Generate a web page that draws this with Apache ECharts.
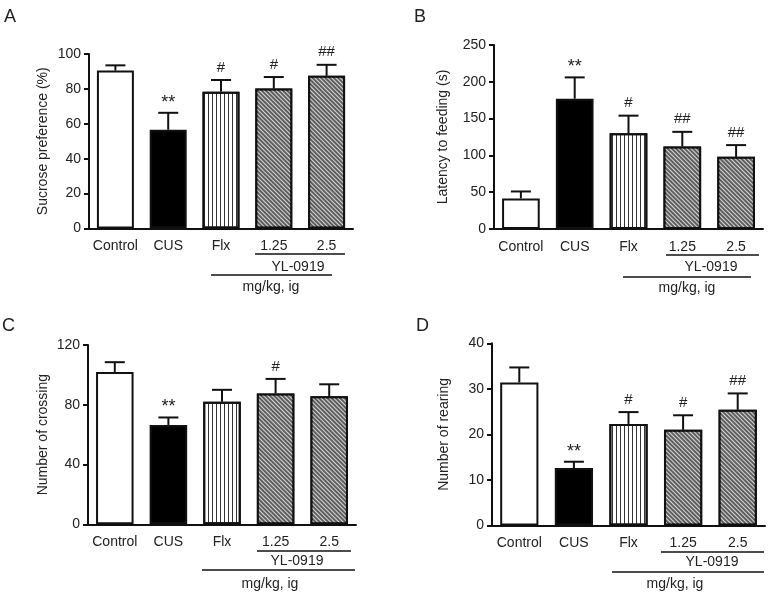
<!DOCTYPE html>
<html>
<head>
<meta charset="utf-8">
<script src="https://cdn.jsdelivr.net/npm/echarts@6/dist/echarts.min.js"></script>
<style>
html,body{margin:0;padding:0;background:#fff;}
#chart{width:769px;height:595px;}
</style>
</head>
<body>
<div id="chart"></div>
<script>
// ---- data ----
const categories = ['Control', 'CUS', 'Flx', '1.25', '2.5'];

const sucroseMean = [90.5, 56.6, 78.4, 80.2, 87.5];
const sucroseErr  = [3.0, 9.7, 6.7, 6.6, 6.3];
const sucroseSig  = ['', '**', '#', '#', '##'];

const latencyMean = [41.5, 177, 130, 112, 98];
const latencyErr  = [9.5, 29, 24, 20, 16];
const latencySig  = ['', '**', '#', '##', '##'];

const crossingMean = [102, 66.5, 82, 87.5, 85.7];
const crossingErr  = [6.5, 5.0, 8.0, 9.8, 8.0];
const crossingSig  = ['', '**', '', '#', ''];

const rearingMean = [31.4, 12.6, 22.3, 21.0, 25.4];
const rearingErr  = [3.3, 1.4, 2.6, 3.2, 3.6];
const rearingSig  = ['', '**', '#', '#', '##'];

const yMaxA = 100, yStepA = 20, yNameA = 'Sucrose preference (%)';
const yMaxB = 250, yStepB = 50, yNameB = 'Latency to feeding (s)';
const yMaxC = 120, yStepC = 40, yNameC = 'Number of crossing';
const yMaxD = 40,  yStepD = 10, yNameD = 'Number of rearing';

const groupLabel = 'YL-0919';
const unitLabel = 'mg/kg, ig';
const panelLetters = ['A', 'B', 'C', 'D'];

// ---- styles ----
const FONT = '"Liberation Sans", Arial, sans-serif';
const INK = '#111';
const TXT = '#222';

const hatch = { symbol: 'rect', symbolSize: 1, color: '#d8d8d8', dashArrayX: [4, 0], dashArrayY: [1, 1.6], rotation: Math.PI / 4 };
const barStyles = [
  { color: '#ffffff', borderColor: INK, borderWidth: 2 },
  { color: '#000000', borderColor: INK, borderWidth: 2 },
  { color: '#ffffff', borderColor: INK, borderWidth: 2,
    decal: { symbol: 'rect', symbolSize: 1, color: '#333', dashArrayX: [1, 2.8], dashArrayY: [4, 0], rotation: 0 } },
  { color: '#5e5e5e', borderColor: INK, borderWidth: 2, decal: hatch },
  { color: '#5e5e5e', borderColor: INK, borderWidth: 2, decal: hatch }
];

const grids = [
  { left: 89,  top: 54,    width: 264, height: 174.5 },
  { left: 494, top: 45,    width: 269, height: 184 },
  { left: 88,  top: 345,   width: 268, height: 179.3 },
  { left: 492, top: 343.3, width: 273, height: 182.2 }
];

const panels = [
  { mean: sucroseMean,  err: sucroseErr,  sig: sucroseSig,  max: yMaxA, step: yStepA, name: yNameA, nameGap: 39 },
  { mean: latencyMean,  err: latencyErr,  sig: latencySig,  max: yMaxB, step: yStepB, name: yNameB, nameGap: 44 },
  { mean: crossingMean, err: crossingErr, sig: crossingSig, max: yMaxC, step: yStepC, name: yNameC, nameGap: 38 },
  { mean: rearingMean,  err: rearingErr,  sig: rearingSig,  max: yMaxD, step: yStepD, name: yNameD, nameGap: 41 }
];

const xAxes = [], yAxes = [], series = [];
panels.forEach((p, k) => {
  xAxes.push({
    type: 'category', gridIndex: k, data: categories,
    axisLine: { lineStyle: { color: INK, width: 2 } },
    axisTick: { alignWithLabel: true, length: 5, lineStyle: { color: INK, width: 2 } },
    axisLabel: { interval: 0, fontSize: 14, color: TXT, fontFamily: FONT, margin: 11 }
  });
  yAxes.push({
    type: 'value', gridIndex: k, min: 0, max: p.max, interval: p.step,
    name: p.name, nameLocation: 'middle', nameGap: p.nameGap,
    nameTextStyle: { fontSize: 14, color: TXT, fontFamily: FONT },
    axisLine: { show: true, lineStyle: { color: INK, width: 2 } },
    axisTick: { show: true, length: 5, lineStyle: { color: INK, width: 2 } },
    axisLabel: { fontSize: 14, color: TXT, fontFamily: FONT, margin: 8 },
    splitLine: { show: false }
  });
  series.push({
    type: 'bar', xAxisIndex: k, yAxisIndex: k, barWidth: '70%',
    silent: true, animation: false,
    data: p.mean.map((v, i) => ({ value: v, itemStyle: barStyles[i] }))
  });
  series.push({
    type: 'custom', xAxisIndex: k, yAxisIndex: k, animation: false, silent: true, z: 5,
    data: p.mean.map((v, i) => [i, v, p.err[i]]),
    renderItem: function (params, api) {
      const i = api.value(0), m = api.value(1), e = api.value(2);
      const base = api.coord([i, m]);
      const top = api.coord([i, m + e]);
      const half = 10;
      const children = [
        { type: 'line', shape: { x1: top[0], y1: base[1], x2: top[0], y2: top[1] }, style: { stroke: INK, lineWidth: 2 } },
        { type: 'line', shape: { x1: top[0] - half, y1: top[1], x2: top[0] + half, y2: top[1] }, style: { stroke: INK, lineWidth: 2 } }
      ];
      const s = p.sig[params.dataIndex];
      if (s) {
        const star = s === '**';
        children.push({
          type: 'text', x: top[0], y: top[1] - (star ? 1 : 5),
          style: { text: s, fill: TXT, font: (star ? '18px ' : '15px ') + FONT, align: 'center', verticalAlign: 'bottom' }
        });
      }
      return { type: 'group', children: children };
    }
  });
});

// bracket annotations (layout only)
function bracket(l1, yl, l2, mg) {
  return [
    { type: 'line', shape: { x1: l1[0], y1: l1[2], x2: l1[1], y2: l1[2] }, style: { stroke: INK, lineWidth: 1.5 } },
    { type: 'text', x: yl[0], y: yl[1], style: { text: groupLabel, font: '14px ' + FONT, fill: TXT, align: 'center', verticalAlign: 'middle' } },
    { type: 'line', shape: { x1: l2[0], y1: l2[2], x2: l2[1], y2: l2[2] }, style: { stroke: INK, lineWidth: 1.5 } },
    { type: 'text', x: mg[0], y: mg[1], style: { text: unitLabel, font: '14px ' + FONT, fill: TXT, align: 'center', verticalAlign: 'middle' } }
  ];
}
const letterPos = [[4, 8], [414, 8], [2, 317], [416, 317]];
const graphics = []
  .concat(bracket([255, 345, 254], [298, 267], [211, 332, 275], [271, 287]))
  .concat(bracket([666, 759, 255], [711, 267], [623, 751, 277], [687, 288]))
  .concat(bracket([257, 351, 551], [297, 561], [202, 355, 570], [270, 584]))
  .concat(bracket([661, 764, 552], [712, 562], [612, 764, 572], [675, 584]))
  .concat(panelLetters.map((t, i) => ({
    type: 'text', left: letterPos[i][0], top: letterPos[i][1],
    style: { text: t, font: '18px ' + FONT, fill: TXT }
  })));

const chart = echarts.init(document.getElementById('chart'), null, { renderer: 'canvas' });
chart.setOption({
  animation: false,
  backgroundColor: '#ffffff',
  textStyle: { fontFamily: FONT },
  grid: grids,
  xAxis: xAxes,
  yAxis: yAxes,
  series: series,
  graphic: graphics
});
</script>
</body>
</html>
